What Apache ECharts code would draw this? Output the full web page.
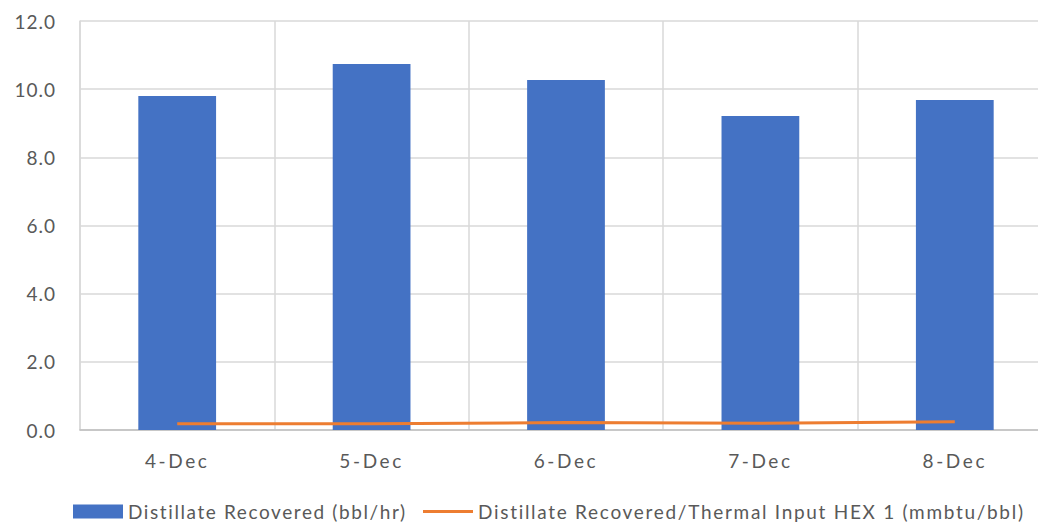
<!DOCTYPE html>
<html>
<head>
<meta charset="utf-8">
<script src="https://cdn.jsdelivr.net/npm/echarts@6/dist/echarts.min.js"></script>
<style>
  html, body { margin: 0; padding: 0; background: #fff; }
  #chart { width: 1038px; height: 525px; }
</style>
</head>
<body>
<div id="chart"></div>
<script>
// Daily distillate recovery and the thermal-input ratio for HEX 1
const categories = ['4-Dec', '5-Dec', '6-Dec', '7-Dec', '8-Dec'];
const distillateRecovered = [9.8, 10.74, 10.27, 9.21, 9.68];
const distillatePerThermal = [0.18, 0.18, 0.22, 0.2, 0.24];
const yTicks = { min: 0, max: 12, interval: 2 };

const barName = 'Distillate Recovered (bbl/hr)';
const lineName = 'Distillate Recovered/Thermal Input HEX 1 (mmbtu/bbl)';

const fontFamily = 'Lato, "Open Sans", sans-serif';
const textColor = '#595959';
const barColor = '#4472C4';
const lineColor = '#ED7D31';

const legendBase = {
  top: 502,
  padding: 0,
  itemWidth: 50,
  itemHeight: 14,
  itemGap: 0,
  textStyle: { fontSize: 19, color: textColor, fontFamily: fontFamily, lineHeight: 19 }
};

const chart = echarts.init(document.getElementById('chart'), null, { renderer: 'svg' });
chart.setOption({
  animation: false,
  textStyle: { fontFamily: fontFamily },
  grid: { left: 80, top: 21, right: -14, bottom: 95, containLabel: false, outerBoundsMode: 'none' },
  legend: [
    Object.assign({}, legendBase, { left: 73, data: [{ name: barName, icon: 'rect' }] }),
    Object.assign({}, legendBase, {
      left: 423,
      data: [{ name: lineName, icon: 'path://M0,0L0.01,0ZM0,5.5L50,5.5L50,8.5L0,8.5ZM50,14L49.99,14Z' }]
    })
  ],
  xAxis: {
    type: 'category',
    data: categories,
    axisLine: { show: true, lineStyle: { color: '#BFBFBF', width: 1.5 } },
    axisTick: { show: false },
    splitLine: { show: true, interval: 0, lineStyle: { color: '#D9D9D9', width: 1.5 } },
    axisLabel: { color: textColor, fontSize: 19, margin: 21 }
  },
  yAxis: {
    type: 'value',
    min: yTicks.min,
    max: yTicks.max,
    interval: yTicks.interval,
    axisLine: { show: true, lineStyle: { color: '#D9D9D9', width: 1.5 } },
    axisTick: { show: false },
    splitLine: { lineStyle: { color: '#D9D9D9', width: 1.5 } },
    axisLabel: {
      color: textColor,
      fontSize: 19,
      margin: 24,
      formatter: v => v.toFixed(1)
    }
  },
  series: [
    {
      name: barName,
      type: 'bar',
      data: distillateRecovered,
      barWidth: '40%',
      itemStyle: { color: barColor }
    },
    {
      name: lineName,
      type: 'line',
      data: distillatePerThermal,
      symbol: 'none',
      lineStyle: { color: lineColor, width: 3 },
      itemStyle: { color: lineColor }
    }
  ]
});

// Loose letter spacing for the chart texts
function spaceLetters() {
  document.querySelectorAll('#chart svg text').forEach(t => {
    const s = t.textContent;
    let sp = '1px';
    if (categories.indexOf(s) >= 0) sp = '2.6px';
    else if (s === barName) sp = '1.6px';
    else if (s === lineName) sp = '1.7px';
    t.style.letterSpacing = sp;
  });
}
chart.on('finished', spaceLetters);
spaceLetters();
</script>
</body>
</html>
